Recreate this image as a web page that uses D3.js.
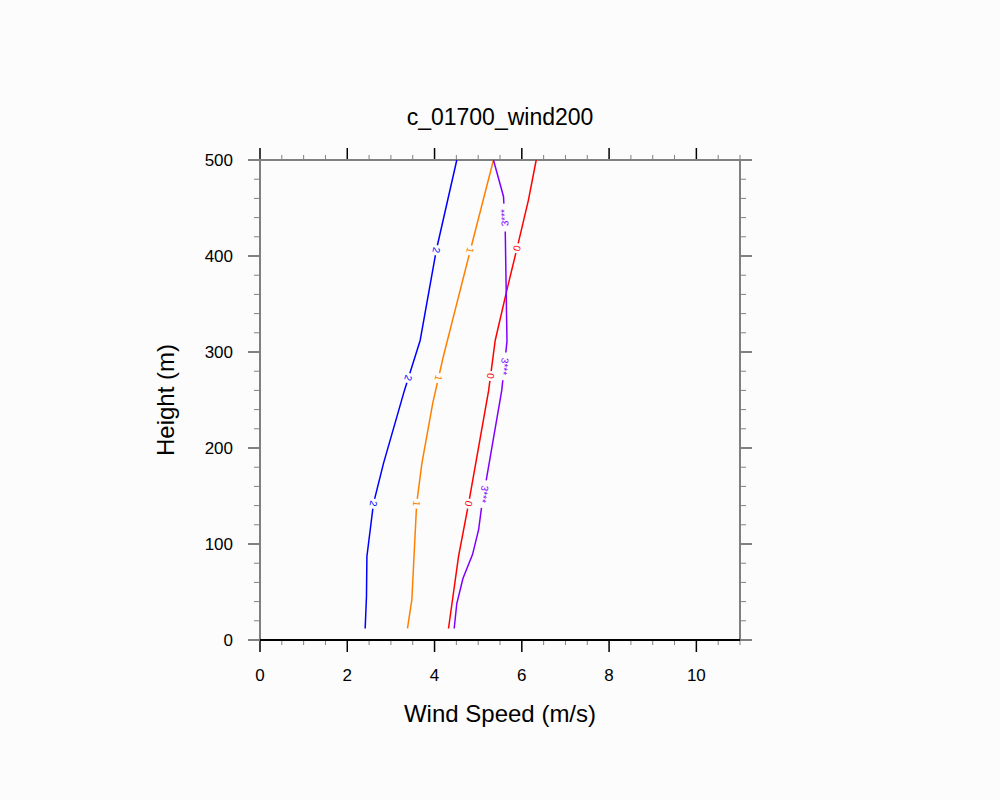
<!DOCTYPE html>
<html><head><meta charset="utf-8">
<script src="https://cdn.jsdelivr.net/npm/d3@7"></script>
<style>body{margin:0;background:#fcfcfc}svg{font-family:"Liberation Sans",Arial,sans-serif}</style>
</head><body><svg id="c" width="1000" height="800"></svg>
<script>
const title = "c_01700_wind200";
const seriesNames = ["2","1","0","3***"];
const seriesColors = ["#0000ff","#ff8000","#ff0000","#8000ff"];
const blueH = [12,45,87,142,184,260,312,406,500];
const blueX = [2.41,2.44,2.45,2.6,2.83,3.31,3.67,4.04,4.51];
const orangeH = [12,42,142,184,247,295,406,500];
const orangeX = [3.38,3.48,3.59,3.71,3.96,4.2,4.82,5.35];
const redH = [12,87,142,260,312,365,408,458,500];
const redX = [4.32,4.55,4.78,5.24,5.39,5.66,5.89,6.15,6.33];
const purpleH = [12,38,64,89,115,139,260,311,427,462,500];
const purpleX = [4.45,4.51,4.65,4.87,5.01,5.08,5.54,5.66,5.62,5.58,5.35];
const labelHeights = [[406,273,142],[406,273,142],[408,275,142],[440,285,152]];
const xTicks = [0,2,4,6,8,10];
const yTicks = [0,100,200,300,400,500];

const svg = d3.select("#c");
const x = d3.scaleLinear().domain([0,11]).range([260,740]);
const y = d3.scaleLinear().domain([0,500]).range([640,160]);
const grey="#808080";
// minor ticks
const g = svg.append("g");
d3.range(0,11.01,0.5).forEach(v=>{
  const major = v%2===0;
  g.append("line").attr("x1",x(v)).attr("x2",x(v)).attr("y1",640).attr("y2",major?652:645).attr("stroke",major?"#000":grey).attr("stroke-width",major?1.5:1);
  g.append("line").attr("x1",x(v)).attr("x2",x(v)).attr("y1",160).attr("y2",major?148:155).attr("stroke",major?"#000":grey).attr("stroke-width",major?1.5:1);
});
d3.range(0,501,20).forEach(v=>{
  const major = v%100===0;
  g.append("line").attr("x1",260).attr("x2",major?248:254).attr("y1",y(v)).attr("y2",y(v)).attr("stroke",grey).attr("stroke-width",major?2:1);
  g.append("line").attr("x1",740).attr("x2",major?752:746).attr("y1",y(v)).attr("y2",y(v)).attr("stroke",grey).attr("stroke-width",major?2:1);
});
g.append("line").attr("x1",260).attr("x2",260).attr("y1",160).attr("y2",640).attr("stroke",grey).attr("stroke-width",2);
g.append("line").attr("x1",740).attr("x2",740).attr("y1",160).attr("y2",640).attr("stroke",grey).attr("stroke-width",2);
g.append("line").attr("x1",260).attr("x2",740).attr("y1",160).attr("y2",160).attr("stroke",grey).attr("stroke-width",2);
g.append("line").attr("x1",260).attr("x2",740).attr("y1",640).attr("y2",640).attr("stroke","#000").attr("stroke-width",2);

xTicks.forEach(v=>svg.append("text").attr("x",x(v)).attr("y",681).attr("text-anchor","middle").attr("font-size",17).text(v));
yTicks.forEach(v=>svg.append("text").attr("x",233).attr("y",y(v)+6).attr("text-anchor","end").attr("font-size",17).text(v));
svg.append("text").attr("x",500).attr("y",125).attr("text-anchor","middle").attr("font-size",23).text(title);
svg.append("text").attr("x",500).attr("y",722).attr("text-anchor","middle").attr("font-size",24).text("Wind Speed (m/s)");
svg.append("text").attr("transform","translate(174,400) rotate(-90)").attr("text-anchor","middle").attr("font-size",24).text("Height (m)");

const series = [[blueH,blueX],[orangeH,orangeX],[redH,redX],[purpleH,purpleX]];
const line = d3.line().x(d=>x(d[1])).y(d=>y(d[0]));
series.forEach(([H,X],i)=>{
  const pts = H.map((h,k)=>[h,X[k]]);
  svg.append("path").attr("d",line(pts)).attr("fill","none").attr("stroke",seriesColors[i]).attr("stroke-width",1.5);
  labelHeights[i].forEach((lh,j)=>{
    const xv = d3.scaleLinear().domain(H).range(X)(lh);
    const a = d3.scaleLinear().domain(H).range(X);
    const dx = x(a(lh+10))-x(a(lh-10)), dy = y(lh+10)-y(lh-10);
    let ang = Math.atan2(dy,dx)*180/Math.PI;
    if(i===3 && j===0) ang += 180;
    const px=x(xv), py=y(lh);
    const w = seriesNames[i].length*6+4;
    const lg = svg.append("g").attr("transform",`translate(${px},${py}) rotate(${ang+180})`);
    lg.append("rect").attr("x",-w/2).attr("y",-5).attr("width",w).attr("height",10).attr("fill","#fcfcfc");
    lg.append("text").attr("text-anchor","middle").attr("y",3.5).attr("font-size",10).attr("fill",seriesColors[i]).text(seriesNames[i]);
  });
});
</script></body></html>
